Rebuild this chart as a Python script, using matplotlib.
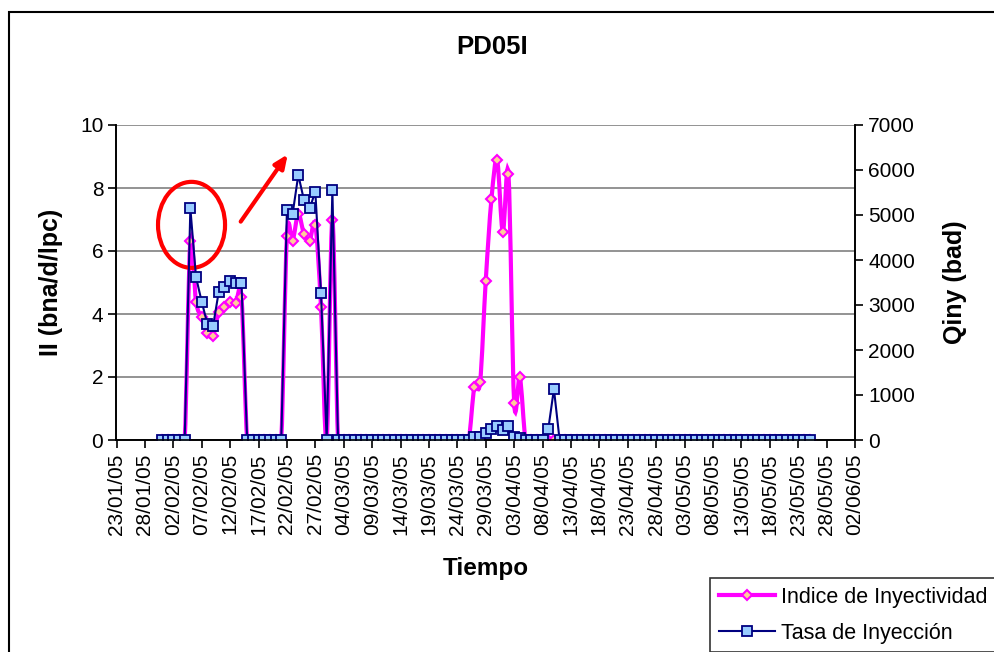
import numpy as np
import pandas as pd
import matplotlib
matplotlib.use("Agg")
import matplotlib.pyplot as plt
import matplotlib.dates as mdates
from matplotlib.path import Path
from matplotlib.patches import PathPatch, Ellipse, Rectangle
from matplotlib.lines import Line2D

plt.rcParams['font.family'] = ['Liberation Sans', 'DejaVu Sans']

# daily records 31/01/05 .. 25/05/05
dates = pd.date_range("2005-01-31", "2005-05-25", freq="D")

# Indice de Inyectividad (bna/d/lpc)
indice = [0, 0, 0, 0, 0,
          6.32, 4.39, 3.90, 3.39, 3.31, 4.07, 4.23, 4.39, 4.36, 4.53,
          0, 0, 0, 0, 0, 0, 0,
          6.48, 6.33, 7.17, 6.54, 6.33, 6.83, 4.23, 0, 7.00, 0,
          0, 0, 0, 0, 0, 0, 0, 0, 0, 0, 0, 0, 0, 0, 0, 0, 0, 0, 0, 0, 0, 0, 0,
          1.69, 1.83, 5.06, 7.64, 8.89, 6.61, 8.43, 1.19, 1.99,
          0, 0, 0, 0,
          0, 0,
          0, 0, 0, 0, 0, 0, 0, 0, 0, 0, 0, 0, 0, 0, 0, 0, 0, 0, 0, 0, 0, 0,
          0, 0, 0, 0, 0, 0, 0, 0, 0, 0, 0, 0, 0, 0, 0, 0, 0, 0, 0, 0, 0, 0, 0]

# Tasa de Inyeccion (bad)
tasa = [0, 0, 0, 0, 0,
        5150, 3616, 3073, 2578, 2533, 3296, 3393, 3533, 3482, 3482,
        0, 0, 0, 0, 0, 0, 0,
        5111, 5022, 5889, 5333, 5148, 5518, 3259, 0, 5556, 0,
        0, 0, 0, 0, 0, 0, 0, 0, 0, 0, 0, 0, 0, 0, 0, 0, 0, 0, 0, 0, 0, 0, 0,
        60, 60, 155, 237, 320, 230, 320, 74, 45,
        0, 0, 0, 0,
        237, 1133,
        0, 0, 0, 0, 0, 0, 0, 0, 0, 0, 0, 0, 0, 0, 0, 0, 0, 0, 0, 0, 0, 0,
        0, 0, 0, 0, 0, 0, 0, 0, 0, 0, 0, 0, 0, 0, 0, 0, 0, 0, 0, 0, 0, 0, 0]

PINK = "#FF00FF"
NAVY = "#000080"


def smooth_path(xs, ys):
    # excel style smoothed line (catmull-rom as bezier)
    n = len(xs)
    verts = [(xs[0], ys[0])]
    codes = [Path.MOVETO]
    for i in range(n - 1):
        xa, ya = (xs[i - 1], ys[i - 1]) if i > 0 else (xs[i], ys[i])
        xb, yb = (xs[i + 2], ys[i + 2]) if i + 2 < n else (xs[i + 1], ys[i + 1])
        c1 = (xs[i] + (xs[i + 1] - xa) / 6, ys[i] + (ys[i + 1] - ya) / 6)
        c2 = (xs[i + 1] - (xb - xs[i]) / 6, ys[i + 1] - (yb - ys[i]) / 6)
        verts += [c1, c2, (xs[i + 1], ys[i + 1])]
        codes += [Path.CURVE4] * 3
    return Path(verts, codes)


fig = plt.figure(figsize=(9.95, 6.52), dpi=100)
fig.patch.set_facecolor("white")

# outer chart border (cropped on right and bottom)
fig.patches.append(Rectangle((9 / 995, -0.2), 1.2, 1.2 - 12 / 652, transform=fig.transFigure,
                             fill=False, edgecolor="black", lw=1.5))

ax = fig.add_axes([116.5 / 995, 1 - 440 / 652, (855 - 116.5) / 995, 315 / 652])
ax2 = ax.twinx()

xnum = mdates.date2num(dates)

ax.add_patch(PathPatch(smooth_path(xnum, indice), facecolor="none", edgecolor=PINK, lw=3, zorder=3))
ax.plot(xnum, indice, ls="none", marker="D", ms=5.5, mfc="#FFCC99", mec=PINK, mew=1.5, zorder=4)

ax2.plot(xnum, tasa, color=NAVY, lw=1.5, marker="s", ms=7, mfc="#99CCFF", mec=NAVY, mew=1.3)

x0 = mdates.date2num(pd.Timestamp("2005-01-23"))
x1 = mdates.date2num(pd.Timestamp("2005-06-02"))
ax.set_xlim(x0, x1)
ax.set_xticks(np.arange(x0, x1 + 1, 5))
ax.xaxis.set_major_formatter(mdates.DateFormatter("%d/%m/%y"))
ax.tick_params(axis="x", rotation=90, labelsize=15, length=6, width=1.2, direction="out")

ax.set_ylim(0, 10)
ax.set_yticks(range(0, 11, 2))
ax2.set_ylim(0, 7000)
ax2.set_yticks(range(0, 7001, 1000))
ax.tick_params(axis="y", labelsize=15, length=6, width=1.2)
ax2.tick_params(axis="y", labelsize=15, length=6, width=1.2)

ax.yaxis.grid(True, color="#808080", lw=1.2)
ax.set_axisbelow(True)
for a in (ax, ax2):
    a.spines["top"].set_visible(False)
    for s in ("left", "right", "bottom"):
        a.spines[s].set_linewidth(1.2)

ax.set_title("PD05I", fontsize=18.5, fontweight="bold", pad=51, x=0.509)
ax.set_xlabel("Tiempo", fontsize=17.5, fontweight="bold", labelpad=16)
ax.set_ylabel("II (bna/d/lpc)", fontsize=18, fontweight="bold", labelpad=12)
ax2.set_ylabel("Qiny (bad)", fontsize=18, fontweight="bold", rotation=90, labelpad=20)

# red annotations
ell = Ellipse((mdates.date2num(pd.Timestamp("2005-02-05 05:00")), 6.83), 11.8, 2.73,
              fill=False, edgecolor="red", lw=3, zorder=6)
ax.add_patch(ell)
ax.annotate("", xy=(mdates.date2num(pd.Timestamp("2005-02-22 10:00")), 9.14),
            xytext=(mdates.date2num(pd.Timestamp("2005-02-13 14:00")), 6.86),
            arrowprops=dict(arrowstyle="-|>,head_length=0.8,head_width=0.35", color="red", lw=3),
            annotation_clip=False, zorder=6)

h1 = Line2D([], [], color=PINK, lw=3, marker="D", ms=5.5, mfc="#FFCC99", mec=PINK, mew=1.5)
h2 = Line2D([], [], color=NAVY, lw=1.5, marker="s", ms=7, mfc="#99CCFF", mec=NAVY, mew=1.3)
leg = fig.legend([h1, h2], ["Indice de Inyectividad", "Tasa de Inyección"],
                 loc="upper left", bbox_to_anchor=(710 / 995, 1 - 578 / 652),
                 fontsize=15.5, frameon=True, fancybox=False, borderaxespad=0,
                 handlelength=2.6, handletextpad=0.3, labelspacing=0.7, borderpad=0.4)
leg.get_frame().set_edgecolor("black")
leg.get_frame().set_linewidth(1.2)

fig.savefig("out.png", dpi=100)
